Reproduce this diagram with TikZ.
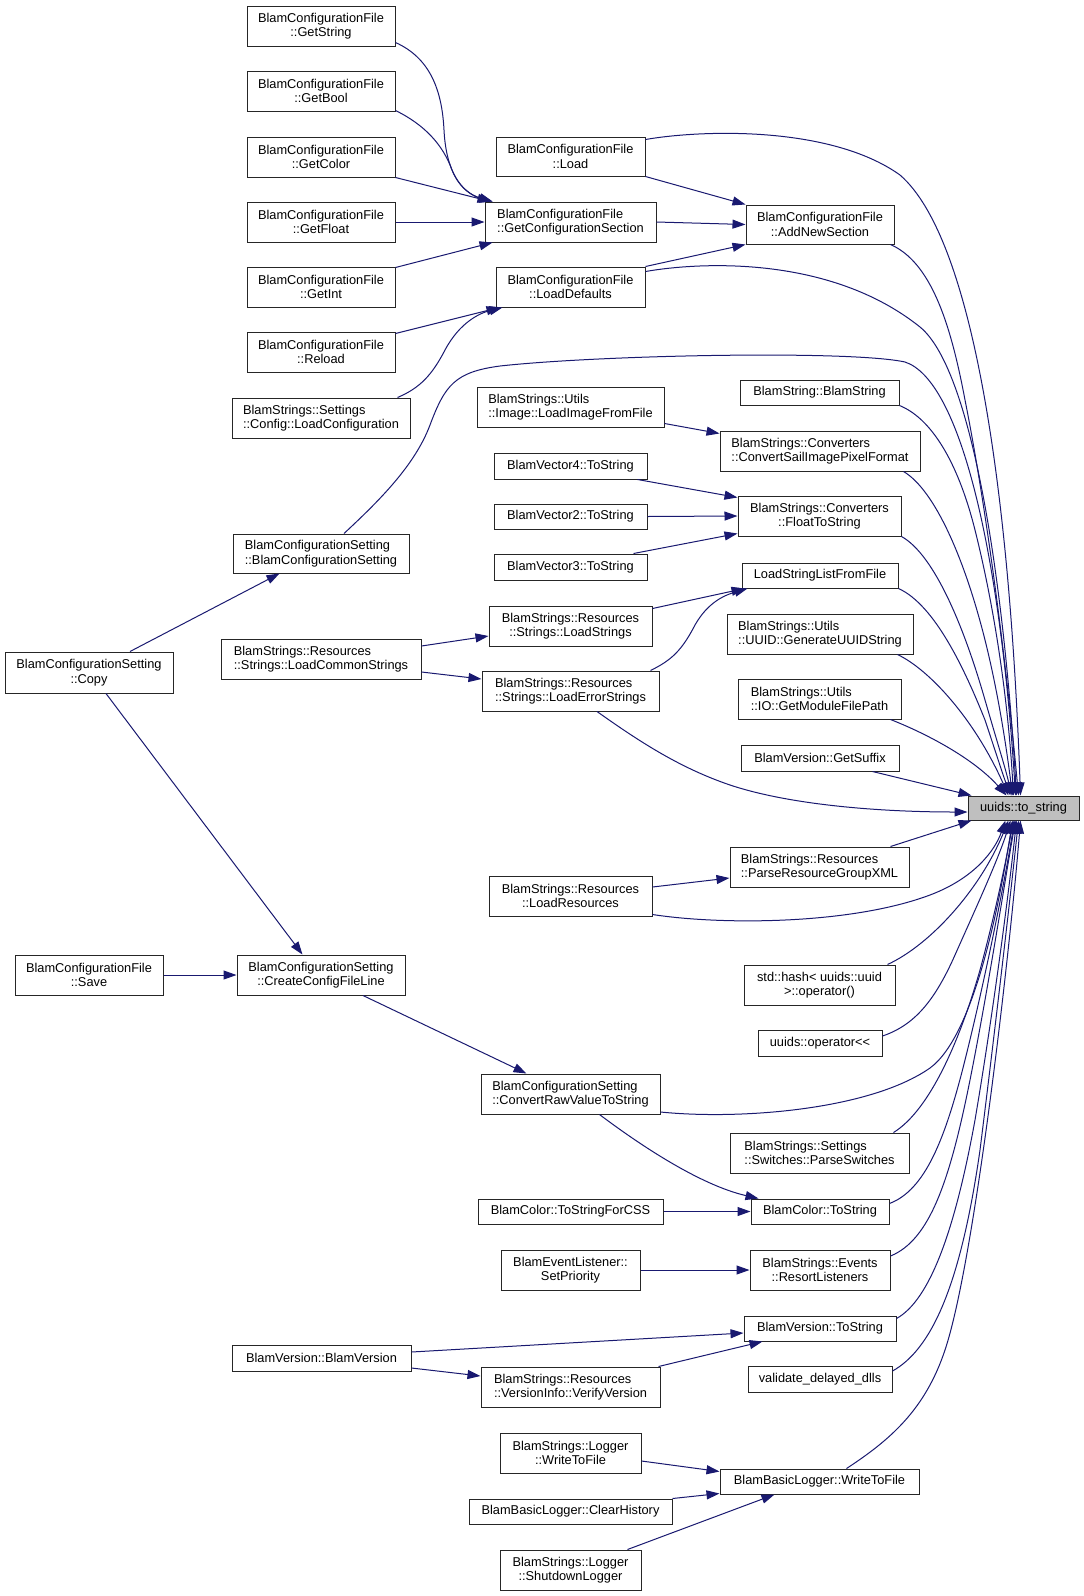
\documentclass[tikz,border=0pt]{standalone}
\usepackage{fontspec}
\setmainfont{Liberation Sans}
\usetikzlibrary{arrows.meta,calc}
\definecolor{mblue}{HTML}{191970}
\definecolor{tsgray}{HTML}{BFBFBF}
\newcommand\nodefont{\fontsize{12.8}{14.5}\selectfont}
\begin{document}
\begin{tikzpicture}[x=1pt,y=-1pt,
  box/.style={draw=black!85, fill=white, line width=1pt, inner sep=0pt, minimum height=40pt, align=center, font=\nodefont, text=black},
  single/.style={minimum height=25pt},
  lft/.style={align=left},
  edge/.style={draw=mblue, line width=1pt, -{Triangle[length=13pt,width=9pt]}}]
\fill[white] (0,0) rectangle (1084,1596);
\useasboundingbox (0,0) rectangle (1084,1596);

% left column
\node[box, minimum width=148pt] (gstr) at (321,26) {BlamConfigurationFile\\::GetString};
\node[box, minimum width=148pt] (gbool) at (321,91) {BlamConfigurationFile\\::GetBool};
\node[box, minimum width=148pt] (gcol) at (321,157) {BlamConfigurationFile\\::GetColor};
\node[box, minimum width=148pt] (gflt) at (321,222) {BlamConfigurationFile\\::GetFloat};
\node[box, minimum width=148pt] (gint) at (321,287) {BlamConfigurationFile\\::GetInt};
\node[box, minimum width=148pt] (rld) at (321,352) {BlamConfigurationFile\\::Reload};
\node[box, lft, minimum width=178pt] (lcfg) at (321,418) {BlamStrings::Settings\\::Config::LoadConfiguration};
\node[box, lft, minimum width=176pt, minimum height=39pt] (bcs) at (321,553.5) {BlamConfigurationSetting\\::BlamConfigurationSetting};
\node[box, minimum width=168pt, minimum height=41pt] (copy) at (89,672.5) {BlamConfigurationSetting\\::Copy};
\node[box, lft, minimum width=200pt] (lcs) at (321,659) {BlamStrings::Resources\\::Strings::LoadCommonStrings};
\node[box, minimum width=148pt] (save) at (89,975) {BlamConfigurationFile\\::Save};
\node[box, minimum width=168pt] (ccfl) at (321,975) {BlamConfigurationSetting\\::CreateConfigFileLine};
\node[box, single, minimum width=179pt, minimum height=26pt] (bv) at (321.5,1358) {BlamVersion::BlamVersion};

% middle column
\node[box, minimum width=149pt, minimum height=39pt] (load) at (570.5,156.5) {BlamConfigurationFile\\::Load};
\node[box, lft, minimum width=171pt] (gcs) at (570.5,222) {BlamConfigurationFile\\::GetConfigurationSection};
\node[box, minimum width=149pt] (ld) at (570.5,287) {BlamConfigurationFile\\::LoadDefaults};
\node[box, lft, minimum width=187pt] (lif) at (570.5,407) {BlamStrings::Utils\\::Image::LoadImageFromFile};
\node[box, single, minimum width=153pt, minimum height=26pt] (v4) at (570.5,466) {BlamVector4::ToString};
\node[box, single, minimum width=153pt] (v2) at (570.5,516.5) {BlamVector2::ToString};
\node[box, single, minimum width=153pt, minimum height=26pt] (v3) at (570.5,567) {BlamVector3::ToString};
\node[box, minimum width=163pt] (ls) at (570.5,626) {BlamStrings::Resources\\::Strings::LoadStrings};
\node[box, lft, minimum width=177pt] (les) at (570.5,691) {BlamStrings::Resources\\::Strings::LoadErrorStrings};
\node[box, minimum width=163pt] (lr) at (570.5,896) {BlamStrings::Resources\\::LoadResources};
\node[box, lft, minimum width=179pt] (crvts) at (570.5,1094) {BlamConfigurationSetting\\::ConvertRawValueToString};
\node[box, single, minimum width=185pt] (css) at (570.5,1211.5) {BlamColor::ToStringForCSS};
\node[box, minimum width=139pt] (sp) at (570.5,1270) {BlamEventListener::\\SetPriority};
\node[box, lft, minimum width=179pt] (vv) at (570.5,1387) {BlamStrings::Resources\\::VersionInfo::VerifyVersion};
\node[box, minimum width=141pt] (lwtf) at (570.5,1453) {BlamStrings::Logger\\::WriteToFile};
\node[box, single, minimum width=203pt] (ch) at (570.5,1511.5) {BlamBasicLogger::ClearHistory};
\node[box, minimum width=141pt] (sl) at (570.5,1570) {BlamStrings::Logger\\::ShutdownLogger};

% right column
\node[box, minimum width=148pt, minimum height=39pt] (ans) at (820,224.5) {BlamConfigurationFile\\::AddNewSection};
\node[box, single, minimum width=159pt] (bs) at (819.5,392.5) {BlamString::BlamString};
\node[box, lft, minimum width=200pt] (cs) at (820,451) {BlamStrings::Converters\\::ConvertSailImagePixelFormat};
\node[box, minimum width=163pt] (fts) at (819.5,516) {BlamStrings::Converters\\::FloatToString};
\node[box, single, minimum width=156pt] (lslff) at (820,575.5) {LoadStringListFromFile};
\node[box, lft, minimum width=186pt] (uuid) at (820,634) {BlamStrings::Utils\\::UUID::GenerateUUIDString};
\node[box, lft, minimum width=163pt] (gmfp) at (819.5,699) {BlamStrings::Utils\\::IO::GetModuleFilePath};
\node[box, single, minimum width=158pt, minimum height=26pt] (gsuf) at (820,758) {BlamVersion::GetSuffix};
\node[box, lft, minimum width=179pt] (prgx) at (819.5,867) {BlamStrings::Resources\\::ParseResourceGroupXML};
\node[box, minimum width=151pt] (hash) at (819.5,985) {std::hash< uuids::uuid\\>::operator()};
\node[box, single, minimum width=124pt, minimum height=26pt] (opl) at (820,1043) {uuids::operator<\kern0pt<};
\node[box, lft, minimum width=179pt] (ps) at (819.5,1153) {BlamStrings::Settings\\::Switches::ParseSwitches};
\node[box, single, minimum width=138pt] (bct) at (820,1211.5) {BlamColor::ToString};
\node[box, minimum width=140pt] (rl) at (820,1270) {BlamStrings::Events\\::ResortListeners};
\node[box, single, minimum width=152pt] (bvts) at (820,1328.5) {BlamVersion::ToString};
\node[box, single, minimum width=144pt, minimum height=26pt] (vdd) at (820,1379) {validate\_delayed\_dlls};
\node[box, single, minimum width=199pt] (bbl) at (819.5,1481.5) {BlamBasicLogger::WriteToFile};

% target
\node[box, single, fill=tsgray, minimum width=111pt, minimum height=24pt] (ts) at (1023.5,808) {uuids::to\_string};

% edges into GetConfigurationSection / LoadDefaults / AddNewSection
\draw[edge] ($(gstr.south east)+(0,-4)$) .. controls (430,58) and (442,90) .. (444,130) .. controls (446,170) and (460,192) .. ($(gcs.north west)+(8,0)$);
\draw[edge] ($(gbool.south east)+(0,-1)$) .. controls (425,125) and (443,145) .. (452,170) .. controls (460,190) and (475,197) .. ($(gcs.north west)+(8,0)$);
\draw[edge] (gcol.south east) -- ($(gcs.north west)+(6,0)$);
\draw[edge] (gflt.east) -- (gcs.west);
\draw[edge] ($(gint.north east)+(0,1)$) -- ($(gcs.south west)+(8,0)$);
\draw[edge] ($(rld.north east)+(0,2)$) -- ($(ld.south west)+(4,0)$);
\draw[edge] ($(lcfg.north east)+(-13,0)$) .. controls (420,388) and (432,375) .. (445,350) .. controls (460,322) and (480,313) .. ($(ld.south west)+(7,0)$);
\draw[edge] (load.south east) -- (ans.north west);
\draw[edge] (gcs.east) -- (ans.west);
\draw[edge] (ld.north east) -- (ans.south west);

% edges into to_string from above
\draw[edge] ($(load.north east)+(0,3)$) .. controls (700,130) and (830,125) .. (900,175) .. controls (975,240) and (1010,500) .. ($(ts.north)+(-3,0)$);
\draw[edge] ($(ans.south east)+(-4,0)$) .. controls (930,262) and (950,320) .. (965,400) .. controls (985,500) and (1005,650) .. ($(ts.north)+(-5,0)$);
\draw[edge] ($(ld.north east)+(0,5)$) .. controls (700,262) and (830,255) .. (920,327) .. controls (975,372) and (1005,600) .. ($(ts.north)+(-7,0)$);
\draw[edge] ($(bcs.north)+(23,0)$) .. controls (380,500) and (415,465) .. (430,425) .. controls (445,385) and (455,372) .. (500,366) .. controls (600,355) and (850,350) .. (905,362) .. controls (960,380) and (1000,550) .. ($(ts.north)+(-8,0)$);
\draw[edge] (bs.south east) .. controls (935,420) and (960,470) .. (975,530) .. controls (995,610) and (1008,700) .. ($(ts.north)+(-10,0)$);
\draw[edge] ($(lif.south east)+(0,-4)$) -- ($(cs.north west)+(0,3)$);
\draw[edge] ($(cs.south east)+(-17,0)$) .. controls (935,490) and (965,560) .. (985,640) .. controls (1000,700) and (1008,760) .. ($(ts.north)+(-11,0)$);
\draw[edge] ($(v4.south east)+(-10,0)$) -- ($(fts.north west)+(0,2)$);
\draw[edge] (v2.east) -- (fts.west);
\draw[edge] ($(v3.north east)+(-14,0)$) -- ($(fts.south west)+(0,-3)$);
\draw[edge] (fts.south east) .. controls (935,555) and (965,630) .. (985,700) .. controls (998,745) and (1006,770) .. ($(ts.north)+(-12,0)$);
\draw[edge] (lslff.south east) .. controls (935,605) and (965,670) .. (985,720) .. controls (995,750) and (1003,775) .. ($(ts.north)+(-13,0)$);
\draw[edge] ($(uuid.south east)+(-16,0)$) .. controls (930,670) and (975,720) .. ($(ts.north)+(-15,0)$);
\draw[edge] ($(gmfp.south east)+(-11,0)$) .. controls (930,735) and (975,760) .. ($(ts.north)+(-17,0)$);
\draw[edge] ($(gsuf.south east)+(-27,0)$) -- ($(ts.north west)+(4,0)$);

% string resources
\draw[edge] ($(ls.north east)+(0,3)$) -- ($(lslff.south west)+(3,0)$);
\draw[edge] ($(les.north east)+(-9,0)$) .. controls (672,660) and (682,650) .. (695,625) .. controls (708,602) and (725,595) .. ($(lslff.south west)+(6,0)$);
\draw[edge] ($(lcs.east)+(0,-13)$) -- ($(ls.west)+(0,10)$);
\draw[edge] ($(lcs.east)+(0,13)$) -- ($(les.west)+(0,-12)$);
\draw[edge] ($(les.south)+(26.5,0)$) .. controls (640,742) and (680,768) .. (730,785) .. controls (790,805) and (880,812) .. ($(ts.west)+(0,4)$);

% configuration setting
\draw[edge] ($(copy.north)+(41,0)$) -- ($(bcs.south west)+(47,0)$);
\draw[edge] ($(copy.south)+(17,0)$) -- ($(ccfl.north west)+(66,0)$);
\draw[edge] (save.east) -- (ccfl.west);
\draw[edge] ($(ccfl.south)+(42,0)$) -- ($(crvts.north west)+(46,0)$);

% edges into to_string from below
\draw[edge] ($(prgx.north east)+(-19,0)$) -- ($(ts.south west)+(4,0)$);
\draw[edge] ($(lr.east)+(0,-9)$) -- ($(prgx.west)+(0,11)$);
\draw[edge] ($(lr.south east)+(0,-2)$) .. controls (720,925) and (850,925) .. (930,895) .. controls (975,878) and (995,850) .. ($(ts.south)+(-18,0)$);
\draw[edge] ($(hash.north east)+(-8,0)$) .. controls (930,945) and (980,890) .. ($(ts.south)+(-15,0)$);
\draw[edge] ($(opl.east)+(0,-7)$) .. controls (915,1025) and (935,1000) .. (955,955) .. controls (975,910) and (998,860) .. ($(ts.south)+(-13,0)$);
\draw[edge] ($(crvts.east)+(0,18)$) .. controls (740,1120) and (870,1110) .. (930,1068) .. controls (975,1035) and (1000,900) .. ($(ts.south)+(-11,0)$);
\draw[edge] ($(crvts.south)+(29,0)$) .. controls (640,1145) and (700,1185) .. ($(bct.north west)+(8,0)$);
\draw[edge] ($(ps.north east)+(-16,0)$) .. controls (930,1110) and (960,1040) .. (980,970) .. controls (995,915) and (1006,860) .. ($(ts.south)+(-10,0)$);
\draw[edge] (css.east) -- (bct.west);
\draw[edge] ($(bct.east)+(0,-8)$) .. controls (925,1190) and (945,1140) .. (965,1060) .. controls (985,980) and (1005,880) .. ($(ts.south)+(-9,0)$);
\draw[edge] (sp.east) -- (rl.west);
\draw[edge] ($(rl.east)+(0,-14)$) .. controls (930,1240) and (950,1180) .. (970,1080) .. controls (988,990) and (1005,880) .. ($(ts.south)+(-8,0)$);
\draw[edge] ($(bvts.east)+(0,-10)$) .. controls (930,1300) and (955,1230) .. (975,1120) .. controls (992,1020) and (1008,900) .. ($(ts.south)+(-7,0)$);
\draw[edge] ($(vdd.east)+(0,-8)$) .. controls (930,1350) and (960,1290) .. (980,1150) .. controls (995,1030) and (1010,900) .. ($(ts.south)+(-5,0)$);
\draw[edge] ($(bbl.north)+(27,0)$) .. controls (890,1440) and (925,1410) .. (945,1350) .. controls (975,1260) and (1010,950) .. ($(ts.south)+(-3,0)$);

% version
\draw[edge] ($(bv.east)+(0,-6)$) -- ($(bvts.west)+(0,4.5)$);
\draw[edge] ($(bv.east)+(0,10)$) -- ($(vv.west)+(0,-11)$);
\draw[edge] ($(vv.north east)+(-2,0)$) -- ($(bvts.south west)+(19,0)$);

% logger
\draw[edge] ($(lwtf.east)+(0,8)$) -- ($(bbl.west)+(0,-10)$);
\draw[edge] (ch.north east) -- ($(bbl.south west)+(0,-1)$);
\draw[edge] ($(sl.north east)+(-14,0)$) -- ($(bbl.south west)+(55,0)$);
\end{tikzpicture}
\end{document}
